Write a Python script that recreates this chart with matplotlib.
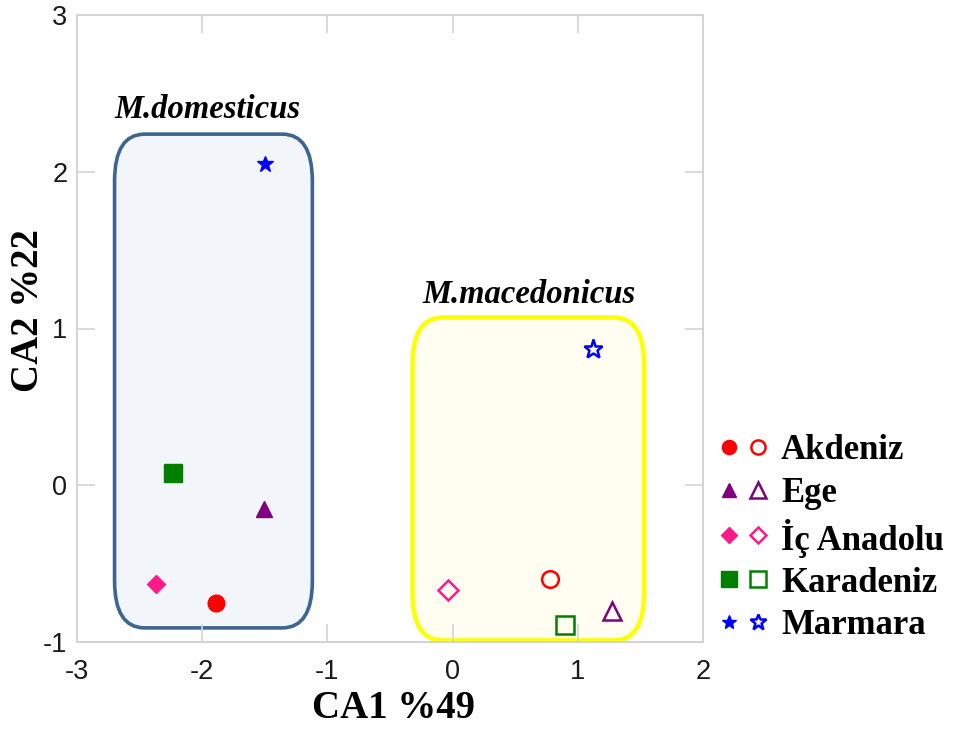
import matplotlib
matplotlib.use("Agg")
import matplotlib.pyplot as plt
from matplotlib.patches import FancyBboxPatch
from matplotlib.lines import Line2D

# Regions and their CA scores
regions = ["Akdeniz", "Ege", "İç Anadolu", "Karadeniz", "Marmara"]
domesticus_ca1 = [-1.89, -1.51, -2.37, -2.23, -1.50]
domesticus_ca2 = [-0.75, -0.15, -0.63, 0.08, 2.05]
macedonicus_ca1 = [0.78, 1.27, -0.04, 0.90, 1.12]
macedonicus_ca2 = [-0.60, -0.80, -0.67, -0.89, 0.87]

colors = ["#ff0000", "#800080", "#ff1a8c", "#007f00", "#0000ff"]
markers = ["o", "^", "D", "s", "*"]
sizes_filled = [12, 12, 9, 13, 12]
sizes_open = [12, 13, 10, 13, 14]

W, H = 956, 731
fig = plt.figure(figsize=(W / 100, H / 100), dpi=100)
ax = fig.add_axes([77 / W, 1 - 642 / H, 626 / W, 627 / H])
ax.set_xlim(-3, 2)
ax.set_ylim(-1, 3)

# Group outlines (rounded corners kept circular on screen)
aspect = (627 / 4) / (626 / 5)
box_dom = FancyBboxPatch((-2.70, -0.91), 1.58, 3.15,
                         boxstyle="round,pad=0,rounding_size=0.24",
                         mutation_aspect=aspect,
                         facecolor="#f2f6fb", edgecolor="#3d6591",
                         linewidth=2.6, zorder=1)
box_mac = FancyBboxPatch((-0.32, -0.99), 1.85, 2.06,
                         boxstyle="round,pad=0,rounding_size=0.24",
                         mutation_aspect=aspect,
                         facecolor="#fffef0", edgecolor="#ffff00",
                         linewidth=3.2, zorder=1)
ax.add_patch(box_dom)
ax.add_patch(box_mac)

title_font = dict(family="Liberation Serif", style="italic", weight="bold",
                  fontsize=23.5, ha="center", va="center")
ax.text(-1.96, 2.40, "M.domesticus", **title_font)
ax.text(0.61, 1.22, "M.macedonicus", **title_font)

for i, name in enumerate(regions):
    ax.plot(domesticus_ca1[i], domesticus_ca2[i], linestyle="none",
            marker=markers[i], markersize=sizes_filled[i],
            color=colors[i], markeredgecolor=colors[i], zorder=3)
    ax.plot(macedonicus_ca1[i], macedonicus_ca2[i], linestyle="none",
            marker=markers[i], markersize=sizes_open[i],
            markerfacecolor="none", markeredgecolor=colors[i],
            markeredgewidth=1.8, zorder=3)

# Legend: filled + open marker pair followed by region name
row_y = [447, 490, 535, 579, 622]
for i, name in enumerate(regions):
    yf = 1 - row_y[i] / H
    fig.add_artist(Line2D([729 / W], [yf], linestyle="none", marker=markers[i],
                          markersize=sizes_filled[i] * 0.85, color=colors[i],
                          transform=fig.transFigure))
    fig.add_artist(Line2D([758 / W], [yf], linestyle="none", marker=markers[i],
                          markersize=sizes_open[i] * 0.85, markerfacecolor="none",
                          markeredgecolor=colors[i], markeredgewidth=1.8,
                          transform=fig.transFigure))
    fig.text(781 / W, yf, name, ha="left", va="center_baseline",
             family="Liberation Serif", weight="bold", fontsize=25)

ax.set_xticks([-3, -2, -1, 0, 1, 2])
ax.set_yticks([-1, 0, 1, 2, 3])
ax.set_xticklabels(["-3", "-2", "-1", "0", "1", "2"])
ax.set_yticklabels(["-1", "0", "1", "2", "3"])
ax.tick_params(direction="in", length=13, width=1.2, color="#d4d4d4",
               top=True, right=True, labelsize=19.5, labelcolor="#1a1a1a")
ax.tick_params(axis="x", pad=12)
ax.tick_params(axis="y", pad=7)
for lab in ax.get_xticklabels() + ax.get_yticklabels():
    lab.set_family("Liberation Sans")
for sp in ax.spines.values():
    sp.set_color("#d4d4d4")
    sp.set_linewidth(1.5)

ax.set_xlabel("CA1 %49", family="Liberation Serif", weight="bold", fontsize=28)
ax.set_ylabel("CA2 %22", family="Liberation Serif", weight="bold", fontsize=28)
ax.xaxis.label.set_va("center")
ax.yaxis.label.set_va("center")
ax.xaxis.set_label_coords((394 - 77) / 626, (642 - 708) / 627)
ax.yaxis.set_label_coords((28 - 77) / 626, (642 - 311) / 627)

fig.savefig("out.png", dpi=100)
